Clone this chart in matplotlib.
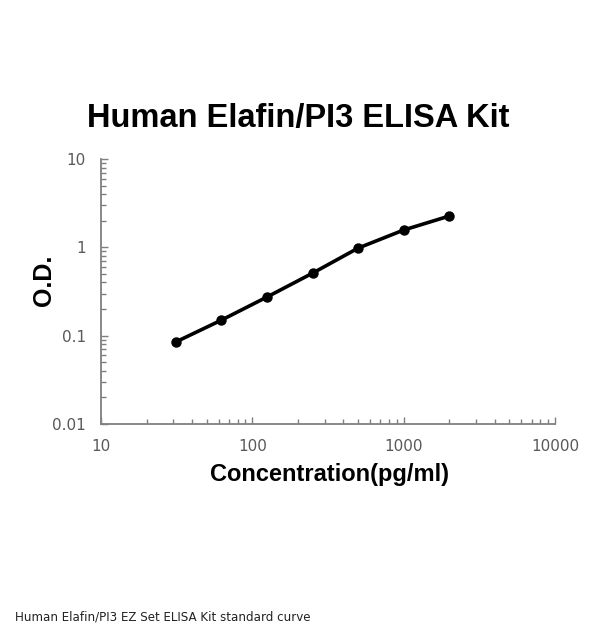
import matplotlib
matplotlib.use("Agg")
import matplotlib.pyplot as plt
from matplotlib.ticker import LogLocator, NullFormatter

conc = [31.25, 62.5, 125, 250, 500, 1000, 2000]
od = [0.085, 0.150, 0.274, 0.51, 0.98, 1.57, 2.26]
xticks = [10, 100, 1000, 10000]
xticklabels = ["10", "100", "1000", "10000"]
yticks = [0.01, 0.1, 1, 10]
yticklabels = ["0.01", "0.1", "1", "10"]

plt.rcParams['font.family'] = ['Liberation Sans', 'DejaVu Sans']

fig = plt.figure(figsize=(6, 6.35), dpi=100)
ax = fig.add_axes([101/600, 1-424/635, (555-101)/600, (424-159)/635])

ax.plot(conc, od, color='black', lw=2.6, marker='o', ms=6.5, solid_capstyle='round')
ax.set_xscale('log')
ax.set_yscale('log')
ax.set_xlim(10, 10000)
ax.set_ylim(0.01, 10)

ax.set_xticks(xticks)
ax.set_xticklabels(xticklabels, family=['DejaVu Sans'])
ax.set_yticks(yticks)
ax.set_yticklabels(yticklabels, family=['DejaVu Sans'])
ax.xaxis.set_minor_locator(LogLocator(base=10, subs=range(2, 10)))
ax.yaxis.set_minor_locator(LogLocator(base=10, subs=range(2, 10)))
ax.xaxis.set_minor_formatter(NullFormatter())
ax.yaxis.set_minor_formatter(NullFormatter())

grey = '#7f7f7f'
for s in ['top', 'right']:
    ax.spines[s].set_visible(False)
for s in ['left', 'bottom']:
    ax.spines[s].set_color(grey)
    ax.spines[s].set_linewidth(1.3)

ax.tick_params(which='major', direction='in', length=5, width=1, color=grey,
               labelcolor='#595959', labelsize=11)
ax.tick_params(which='minor', direction='in', length=3.5, width=1, color=grey)
ax.tick_params(axis='x', which='major', pad=11)
ax.tick_params(axis='y', which='major', pad=11)

ax.set_xlabel('Concentration(pg/ml)', fontsize=17, fontweight='bold')
ax.xaxis.set_label_coords(0.504, -0.148)
ax.set_ylabel('O.D.', fontsize=18, fontweight='bold')
ax.yaxis.set_label_coords(-0.10, 0.543)

fig.text(298/600, 1-118/635, 'Human Elafin/PI3 ELISA Kit', ha='center', va='center',
         fontsize=23.5, fontweight='bold')
fig.text(15/600, 1-617/635, 'Human Elafin/PI3 EZ Set ELISA Kit standard curve',
         ha='left', va='center', fontsize=8.6, color='#222222', family=['DejaVu Sans'])

fig.savefig('out.png', dpi=100, facecolor='white')
